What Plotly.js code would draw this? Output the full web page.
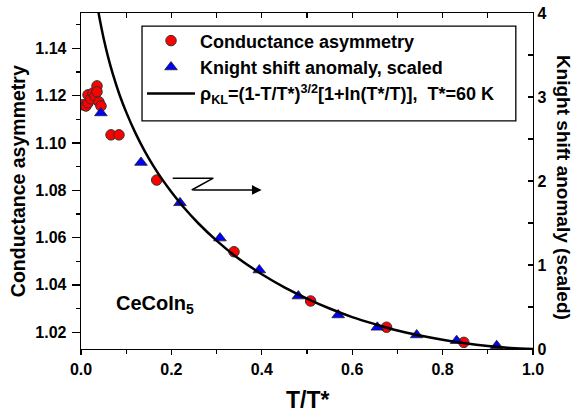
<!DOCTYPE html>
<html>
<head>
<meta charset="utf-8">
<script src="https://cdn.plot.ly/plotly-3.0.1.min.js"></script>
<style>html,body{margin:0;padding:0;background:#fff;}#chart{width:578px;height:416px;}</style>
</head>
<body>
<div id="chart"></div>
<script>
// Conductance asymmetry (left axis)
const condT = [0.004, 0.011, 0.0155, 0.0155, 0.022, 0.0265, 0.031, 0.0354, 0.0354, 0.0398, 0.0442, 0.0664, 0.084, 0.1675, 0.3385, 0.508, 0.676, 0.847];
const condG = [1.1161, 1.1156, 1.1169, 1.1203, 1.1186, 1.1211, 1.1199, 1.1241, 1.1216, 1.1173, 1.1156, 1.1034, 1.1034, 1.0843, 1.0540, 1.0332, 1.0221, 1.0157];
// Knight shift anomaly, scaled (right axis)
const ksT = [0.044, 0.1327, 0.219, 0.3075, 0.3945, 0.4808, 0.569, 0.6556, 0.7427, 0.831, 0.9197];
const ksV = [2.81, 2.22, 1.74, 1.32, 0.94, 0.63, 0.405, 0.258, 0.167, 0.099, 0.039];
// rho_KL curve (right axis)
const curveT = [0.037, 0.042, 0.05, 0.06, 0.07, 0.085, 0.1, 0.12, 0.14, 0.16, 0.18, 0.2, 0.23, 0.26, 0.3, 0.35, 0.4, 0.45, 0.5, 0.55, 0.6, 0.65, 0.7, 0.75, 0.8, 0.85, 0.9, 0.95, 1.0];
const curveV = [4.06, 3.91, 3.70, 3.475, 3.28, 3.03, 2.82, 2.576, 2.365, 2.18, 2.016, 1.87, 1.669, 1.494, 1.29, 1.07, 0.89, 0.734, 0.60, 0.482, 0.38, 0.296, 0.22, 0.161, 0.11, 0.0675, 0.035, 0.0118, 0.0];

const xTicks = [0, 0.2, 0.4, 0.6, 0.8, 1.0];
const xTickText = ['0.0', '0.2', '0.4', '0.6', '0.8', '1.0'];
const yTicks = [1.02, 1.04, 1.06, 1.08, 1.10, 1.12, 1.14];
const yTickText = ['1.02', '1.04', '1.06', '1.08', '1.10', '1.12', '1.14'];
const y2Ticks = [0, 1, 2, 3, 4];

const F = 'Liberation Sans, Arial, sans-serif';
const tf = {family: F, size: 16, color: '#000', weight: 'bold'};

const traces = [
  {x: condT, y: condG, type: 'scatter', mode: 'markers', name: 'Conductance asymmetry',
   marker: {symbol: 'circle', size: 10.5, color: '#ff0000', line: {color: '#333', width: 1}}, xaxis: 'x', yaxis: 'y'},
  {x: ksT, y: ksV, type: 'scatter', mode: 'markers', name: 'Knight shift anomaly, scaled',
   marker: {symbol: 'triangle-up', size: 11, color: '#0000ff', line: {color: '#222', width: 0.8}}, xaxis: 'x', yaxis: 'y2'},
  {x: curveT, y: curveV, type: 'scatter', mode: 'lines', name: 'ρ<sub>KL</sub>=(1-T/T*)<sup>3/2</sup>[1+ln(T*/T)],  T*=60 K',
   line: {color: '#000', width: 2.5, shape: 'spline'}, xaxis: 'x', yaxis: 'y2'},
  {x: [0, 1], y: [1.05, 1.05], type: 'scatter', mode: 'markers', marker: {opacity: 0}, showlegend: false, hoverinfo: 'skip', xaxis: 'x2', yaxis: 'y'}
];

const layout = {
  width: 578, height: 416,
  margin: {l: 81, r: 45, t: 13, b: 67},
  paper_bgcolor: '#fff', plot_bgcolor: '#fff',
  showlegend: true,
  legend: {x: 0.135, y: 0.972, xanchor: 'left', yanchor: 'top', bgcolor: 'rgba(0,0,0,0)', borderwidth: 0,
           itemwidth: 48, font: {family: F, size: 18, color: '#000', weight: 'bold'}, tracegroupgap: 0},
  xaxis: {range: [0, 1], tickvals: xTicks, ticktext: xTickText, ticks: 'outside', ticklen: 5, tickwidth: 1.3, tickcolor: '#000',
          minor: {dtick: 0.1, tick0: 0, ticks: 'outside', ticklen: 4, tickwidth: 1.3, tickcolor: '#000'},
          showline: true, linecolor: '#000', linewidth: 1.3, showgrid: false, zeroline: false, tickfont: tf},
  xaxis2: {range: [0, 1], overlaying: 'x', side: 'top', dtick: 0.1, tick0: 0, ticks: 'inside', ticklen: 5, tickwidth: 1.3, tickcolor: '#000',
           showticklabels: false, showline: true, linecolor: '#000', linewidth: 1.3, showgrid: false, zeroline: false},
  yaxis: {range: [1.0129, 1.1549], tickvals: yTicks, ticktext: yTickText, ticks: 'outside', ticklen: 8, tickwidth: 1.3, tickcolor: '#000',
          minor: {dtick: 0.01, tick0: 1.01, ticks: 'outside', ticklen: 4, tickwidth: 1.3, tickcolor: '#000'},
          showline: true, linecolor: '#000', linewidth: 1.3, showgrid: false, zeroline: false, tickfont: tf, ticklabelstandoff: 2},
  yaxis2: {range: [0, 4], overlaying: 'y', side: 'right', tickvals: y2Ticks, ticks: 'inside', ticklen: 5, tickwidth: 1.3, tickcolor: '#000',
           minor: {dtick: 0.5, tick0: 0, ticks: 'inside', ticklen: 5, tickwidth: 1.3, tickcolor: '#000'},
           showline: true, linecolor: '#000', linewidth: 1.3, showgrid: false, zeroline: false, tickfont: tf},
  shapes: [
    {type: 'rect', xref: 'paper', yref: 'paper', x0: 0.135, x1: 0.962, y0: 0.679, y1: 0.961, layer: 'above',
     fillcolor: '#fff', line: {color: '#000', width: 1.3}},
    {type: 'path', xref: 'x', yref: 'y', path: 'M 0.2029 1.0851 L 0.2927 1.0851 L 0.2449 1.0801', line: {color: '#000', width: 1.5}}
  ],
  annotations: [
    {xref: 'x', yref: 'y', x: 0.3998, y: 1.0801, axref: 'x', ayref: 'y', ax: 0.2449, ay: 1.0801, text: '', showarrow: true,
     arrowhead: 2, arrowsize: 1.3, arrowwidth: 1.5, arrowcolor: '#000'},
    {xref: 'x', yref: 'y', x: 0.073, y: 1.0319, xanchor: 'left', yanchor: 'middle', showarrow: false,
     text: 'CeCoIn<sub>5</sub>', font: {family: F, size: 20, color: '#000', weight: 'bold'}},
    {xref: 'paper', yref: 'paper', x: -0.139, y: 0.5, xanchor: 'center', yanchor: 'middle', showarrow: false, textangle: -90,
     text: 'Conductance asymmetry', font: {family: F, size: 19.5, color: '#000', weight: 'bold'}},
    {xref: 'paper', yref: 'paper', x: 1.066, y: 0.48, xanchor: 'center', yanchor: 'middle', showarrow: false, textangle: 90,
     text: 'Knight shift anomaly (scaled)', font: {family: F, size: 19, color: '#000', weight: 'bold'}},
    {xref: 'paper', yref: 'paper', x: 0.5, y: -0.152, xanchor: 'center', yanchor: 'middle', showarrow: false,
     text: 'T/T*', font: {family: F, size: 23, color: '#000', weight: 'bold'}}
  ]
};

Plotly.newPlot('chart', traces, layout, {displayModeBar: false, staticPlot: true});
</script>
</body>
</html>
